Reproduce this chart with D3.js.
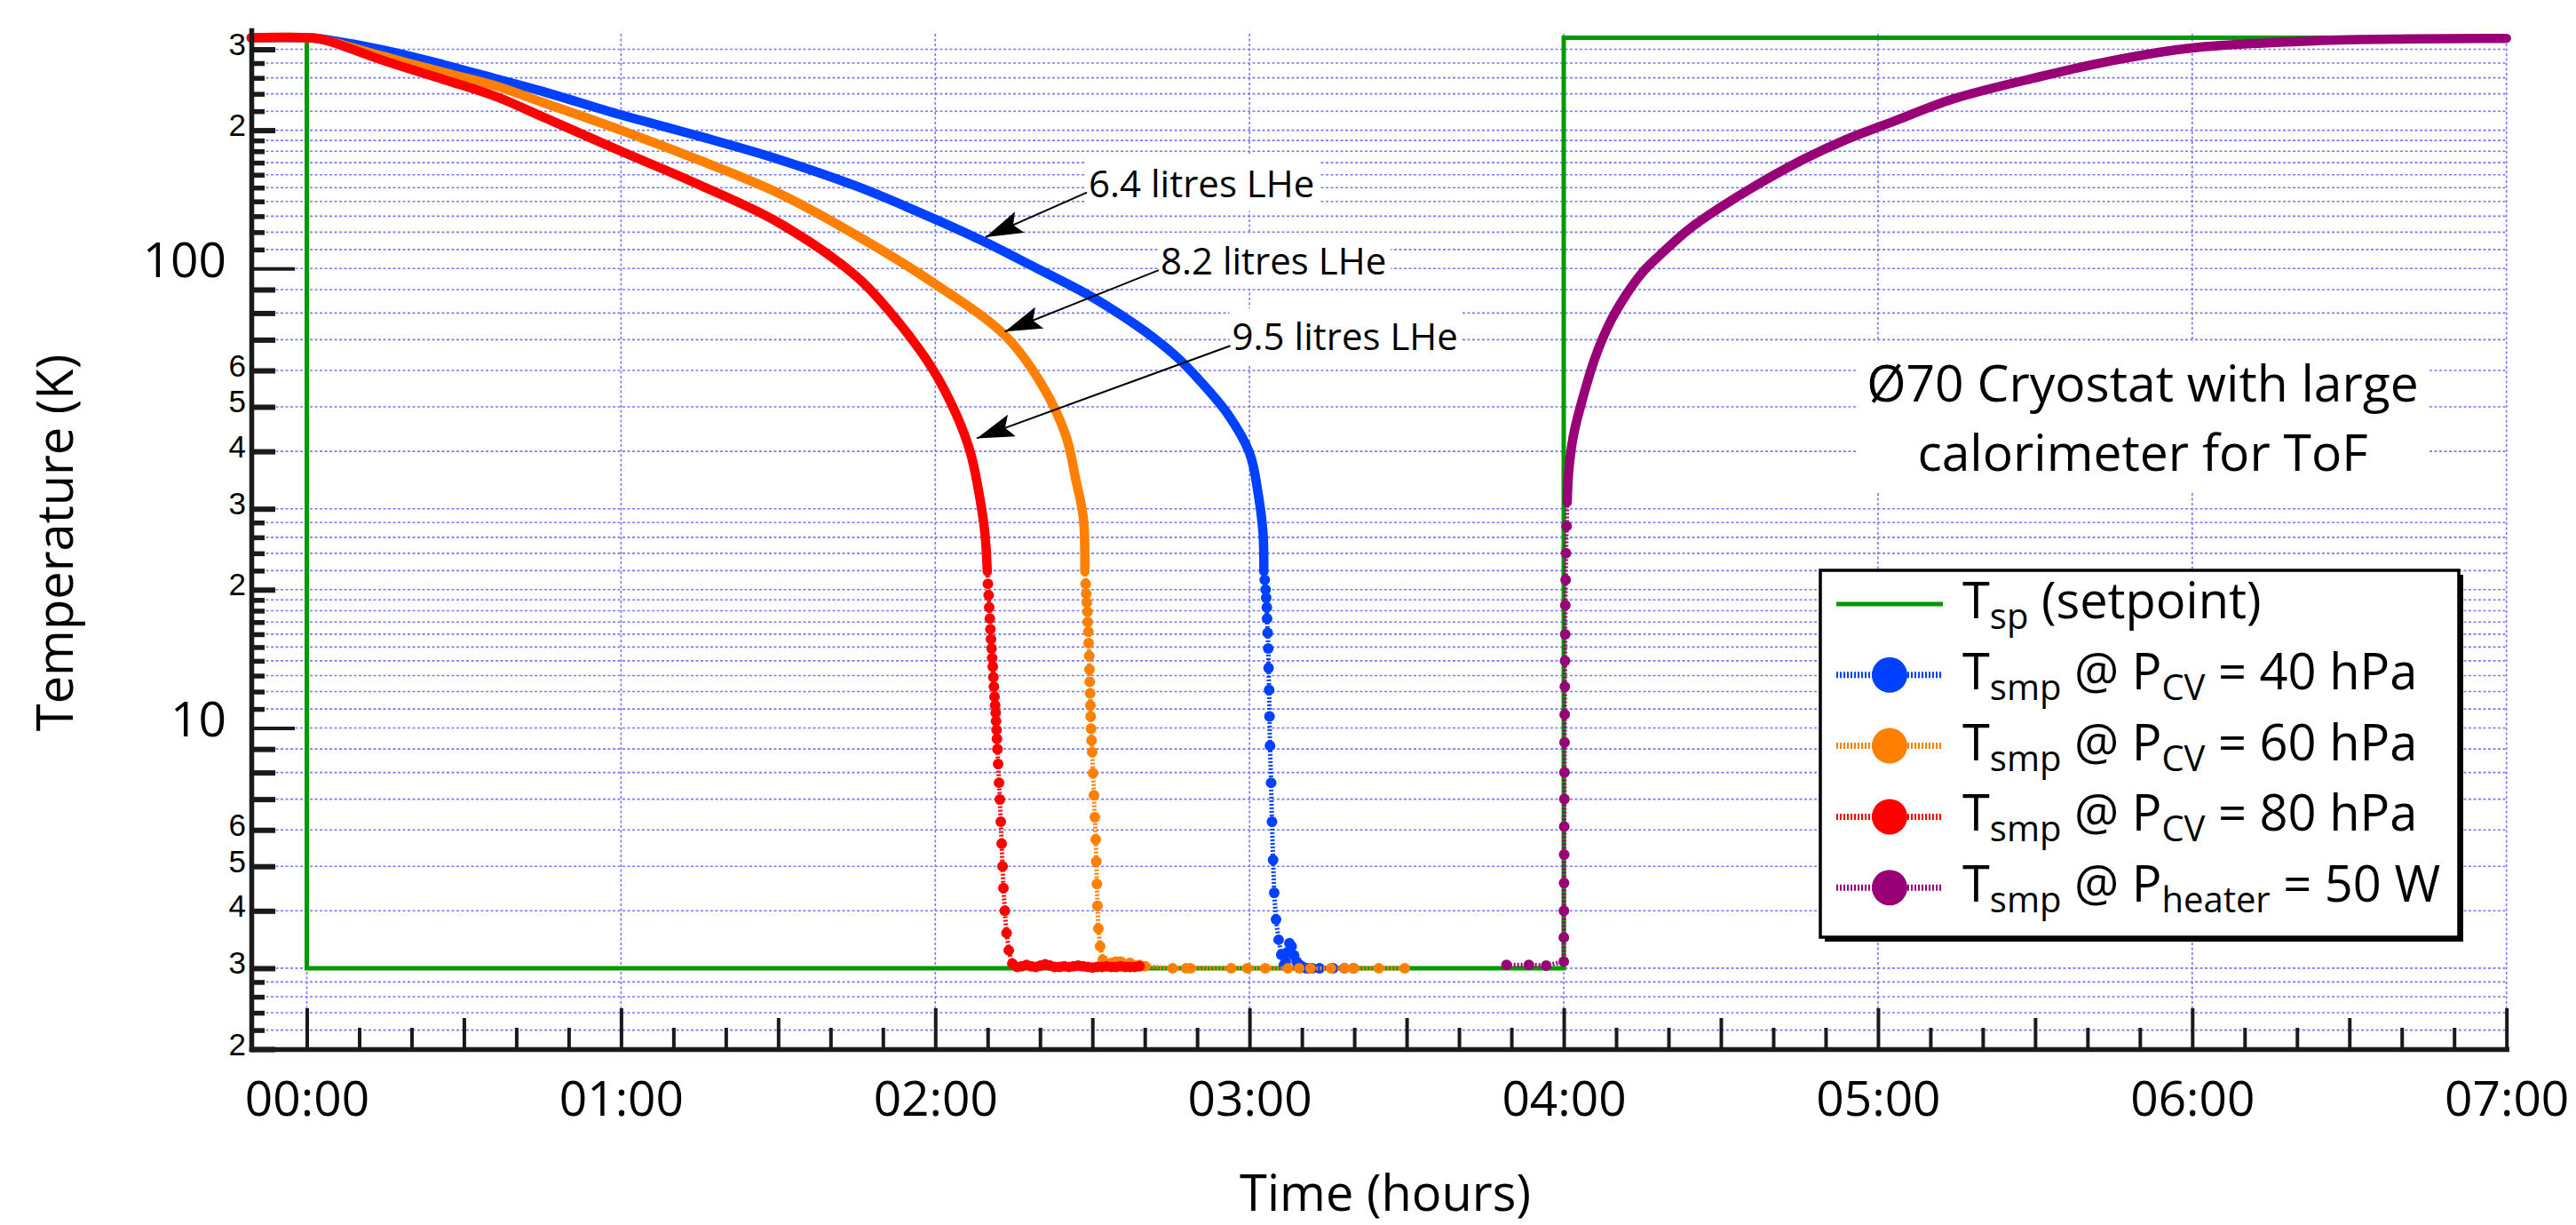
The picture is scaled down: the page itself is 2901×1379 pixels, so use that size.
<!DOCTYPE html>
<html><head><meta charset="utf-8">
<script src="https://cdn.jsdelivr.net/npm/d3@7"></script>
<style>
html,body{margin:0;padding:0;background:#fff;}
svg{display:block;font-family:"Open Sans","Noto Sans",sans-serif;}
text{white-space:pre;}
</style></head><body>
<svg id="chart" width="2901" height="1379"></svg>
<script>
// ---------------- DATA ----------------
const xHours = [0,1,2,3,4,5,6,7];
const xTickLabels = ["00:00","01:00","02:00","03:00","04:00","05:00","06:00","07:00"];
const yTicksMajor = [10,100];
const yTicksMedium = [2,3,4,5,6,7,8,9,20,30,40,50,60,70,80,90,200,300];
const yTicksMinor = [2.2,2.4,2.6,2.8,11,12,13,14,15,16,17,18,19,22,24,26,28,110,120,130,140,150,160,170,180,190,220,240,260,280];
const yLabelValues = [2,3,4,5,6,10,20,30,40,50,60,100,200,300];
const yLabelTexts  = ["2","3","4","5","6","10","2","3","4","5","6","100","2","3"];

// setpoint (hours, K)
const setpointTime = [-0.177,0,0,4,4,7];
const setpointTemp = [318,318,3,3,318,318];

// T_smp @ P_CV = 40 hPa  (hours, K)
const blueLine = [[-0.177,318],[0.02,317.5],[0.06,315],[0.248,298.4],[0.437,277.5],[0.6,259],[0.75,243],[1.0,216],[1.25,194],[1.5,173],[1.75,151],[2.0,128],[2.16,114],[2.3,102],[2.495,87],[2.6,78.5],[2.697,70.5],[2.773,63.8],[2.838,57.4],[2.932,48.1],[3.0,39.7],[3.028,32.2],[3.043,26.5],[3.0456,21.9]];
const blueDots = [[3.0484,21.0],[3.0512,20.0],[3.0531,19.2],[3.0551,18.3],[3.0559,17.3],[3.0579,16.1],[3.0596,14.9],[3.0607,13.5],[3.0624,12.1],[3.0636,10.6],[3.0653,9.15],[3.0687,7.6],[3.0715,6.25],[3.075,5.16],[3.0786,4.38],[3.0843,3.83],[3.0927,3.46],[3.101,3.21],[3.1096,3.05],[3.115,3.1],[3.12,3.25],[3.127,3.4],[3.134,3.35],[3.142,3.2],[3.15,3.1],[3.16,3.05],[3.17,3.02],[3.18,3.0],[3.19,3.0],[3.2,3.0],[3.223,3.0],[3.266,3.0],[3.302,3.0],[3.331,3.0]];

// T_smp @ P_CV = 60 hPa
const orangeLine = [[-0.177,318],[0.02,317.5],[0.06,314],[0.248,289],[0.437,267],[0.6,250],[0.75,230],[1.0,200],[1.25,172],[1.5,146],[1.75,118],[2.0,92.5],[2.222,71.5],[2.339,55.9],[2.415,43.4],[2.448,34.5],[2.471,28.7],[2.4758,21.9]];
const orangeDots = [[2.4787,20.6],[2.4804,19.6],[2.4824,18.75],[2.4843,17.9],[2.4852,17.0],[2.4872,16.2],[2.488,15.3],[2.49,14.35],[2.4909,13.4],[2.4917,12.6],[2.4929,11.9],[2.4937,11.2],[2.4945,10.6],[2.4957,9.97],[2.4974,9.4],[2.4994,8.86],[2.5021,7.98],[2.5049,7.14],[2.5077,6.39],[2.5106,5.72],[2.5125,5.12],[2.5142,4.58],[2.5162,4.1],[2.519,3.66],[2.5247,3.35],[2.5332,3.13],[2.5473,3.05],[2.56,3.08],[2.575,3.1],[2.59,3.1],[2.605,3.06],[2.62,3.08],[2.635,3.04],[2.65,3.05],[2.668,3.03],[2.755,3.0],[2.798,3.0],[2.812,3.0],[2.942,3.0],[2.993,3.0],[3.05,3.0],[3.122,3.0],[3.158,3.0],[3.194,3.0],[3.259,3.0],[3.303,3.0],[3.331,3.0],[3.411,3.0],[3.494,3.0]];

// T_smp @ P_CV = 80 hPa
const redLine = [[-0.177,318],[0.02,317.5],[0.06,314],[0.248,283],[0.437,257.7],[0.6,237],[0.75,214],[1.0,180],[1.25,152],[1.5,126],[1.75,96],[1.869,78.5],[1.991,60.5],[2.067,48.1],[2.112,39.7],[2.14,32.2],[2.158,26.5],[2.1655,21.9]];
const redDots = [[2.1675,20.6],[2.1698,19.45],[2.1717,18.3],[2.1737,17.3],[2.1754,16.4],[2.1774,15.6],[2.1793,14.9],[2.181,14.2],[2.183,13.6],[2.1849,12.9],[2.1866,12.3],[2.1886,11.7],[2.1906,11.2],[2.1923,10.8],[2.1934,10.35],[2.1951,9.9],[2.1962,9.47],[2.1979,9.0],[2.2,8.35],[2.2028,7.6],[2.2056,6.99],[2.2085,6.25],[2.2113,5.6],[2.2141,5.0],[2.2169,4.48],[2.2212,4.0],[2.2268,3.58],[2.2339,3.28],[2.2452,3.07],[2.26,3.02],[2.275,3.03],[2.29,3.05],[2.305,3.03],[2.32,3.02],[2.335,3.04],[2.35,3.06],[2.365,3.04],[2.38,3.02],[2.395,3.02],[2.41,3.03],[2.425,3.02],[2.44,3.03],[2.455,3.04],[2.47,3.03],[2.485,3.02],[2.5,3.01],[2.515,3.02],[2.53,3.02],[2.545,3.03],[2.56,3.02],[2.575,3.02],[2.59,3.03],[2.605,3.02],[2.62,3.02],[2.635,3.02],[2.65,3.03]];

// T_smp @ P_heater = 50 W
const purpleDots = [[3.818,3.05],[3.889,3.05],[3.944,3.04],[4.0,3.1],[4.0003,3.5],[4.0006,4.0],[4.001,4.6],[4.0013,5.3],[4.0016,6.1],[4.002,7.0],[4.0023,8.0],[4.0026,9.3],[4.003,10.7],[4.0035,12.3],[4.004,14],[4.0045,16],[4.005,18.5],[4.006,21],[4.007,24],[4.009,27.5]];
const purpleLine = [[4.011,31],[4.016,36.3],[4.03,43],[4.053,50],[4.1,64],[4.15,77],[4.2,88],[4.25,98],[4.3,106],[4.4,122],[4.5,136],[4.6,150],[4.75,171],[4.9,191],[5.05,209],[5.24,234],[5.52,262],[5.74,283],[6.0,302],[6.39,313],[6.7,316],[7.0,317]];

const seriesNames = ["blue","orange","red","purple"];
const seriesColors = ["#0040ff","#ff8000","#ff0000","#990077"];
const setpointColor = "#009900";

// annotations: tip and start of arrow, in (hours, K)
const annotLabels = ["6.4 litres LHe","8.2 litres LHe","9.5 litres LHe"];
const annotTip   = [[2.160,117],[2.2216,72.9],[2.132,42.7]];
const annotStart = [[2.4826,146.4],[2.7112,99.2],[2.939,67.9]];

const legendLabels = [
  [["T",0],["sp",1],[" (setpoint)",0]],
  [["T",0],["smp",1],[" @ P",0],["CV",1],[" = 40 hPa",0]],
  [["T",0],["smp",1],[" @ P",0],["CV",1],[" = 60 hPa",0]],
  [["T",0],["smp",1],[" @ P",0],["CV",1],[" = 80 hPa",0]],
  [["T",0],["smp",1],[" @ P",0],["heater",1],[" = 50 W",0]]
];
const titleLines = ["\u00D870 Cryostat with large","calorimeter for ToF"];

// ---------------- CHART ----------------
const svg = d3.select("#chart");
svg.append("rect").attr("width",2901).attr("height",1379).attr("fill","#fff");

const x = d3.scaleLinear().domain([-0.1766,7]).range([283,2822.7]);
const y = d3.scaleLog().domain([2,330]).range([1181,34.1]);
const X0 = x.range()[0], X1 = x.range()[1], Y0 = y.range()[0], Y1 = y.range()[1];

// grid
const grid = svg.append("g").attr("stroke","#7878ff").attr("stroke-width",1.6).attr("stroke-dasharray","3,2.5").attr("fill","none");
grid.selectAll("line.h").data([...yTicksMinor,...yTicksMedium.filter(v=>v>2),...yTicksMajor]).join("line").attr("class","h")
  .attr("x1",X0).attr("x2",X1).attr("y1",d=>y(d)).attr("y2",d=>y(d));
grid.selectAll("line.v").data(xHours).join("line").attr("class","v")
  .attr("x1",d=>x(d)).attr("x2",d=>x(d)).attr("y1",Y1+4).attr("y2",Y0);

// title box
const titleG = svg.append("g");
const titleText = titleG.append("text").attr("text-anchor","middle").attr("font-size",57).attr("fill","#000");
titleLines.forEach((t,i)=>titleText.append("tspan").attr("x",2413).attr("y",451.7+i*78.3).text(t));
const tb = titleText.node().getBBox();
titleG.insert("rect","text").attr("x",tb.x-10).attr("y",tb.y-6).attr("width",tb.width+20).attr("height",tb.height+14).attr("fill","#fff");

// setpoint
const lineGen = d3.line().x(d=>x(d[0])).y(d=>y(d[1]));
svg.append("path").datum(setpointTime.map((t,i)=>[t,setpointTemp[i]]))
  .attr("d",lineGen).attr("fill","none").attr("stroke",setpointColor).attr("stroke-width",5);

// series
const smooth = d3.line().x(d=>x(d[0])).y(d=>y(d[1])).curve(d3.curveCatmullRom.alpha(0.5));
const seriesLines = [blueLine,orangeLine,redLine,purpleLine];
const seriesDots = [blueDots,orangeDots,redDots,purpleDots];
seriesNames.forEach((n,i)=>{
  const g = svg.append("g").attr("class","series-"+n);
  const col = seriesColors[i];
  const all = seriesLines[i].concat(seriesDots[i]).sort((a,b)=>a[0]-b[0]);
  g.append("path").datum(all).attr("d",lineGen).attr("fill","none").attr("stroke",col)
    .attr("stroke-width",5).attr("stroke-dasharray","2,2");
  g.append("path").datum(seriesLines[i]).attr("d",smooth).attr("fill","none").attr("stroke",col)
    .attr("stroke-width",10.5).attr("stroke-linecap","round").attr("stroke-linejoin","round");
  g.selectAll("circle").data(seriesDots[i]).join("circle")
    .attr("cx",d=>x(d[0])).attr("cy",d=>y(d[1])).attr("r",6).attr("fill",col);
});

// axes
function clean(g){ g.attr("font-family",null).attr("font-size",null); }
function dropEmpty(g){ g.selectAll(".tick text").filter(function(){return !this.textContent;}).remove(); }
const axisColor = "#1a1a1a";
const xg = svg.append("g").attr("transform",`translate(0,${Y0})`);
const tenMin = d3.range(1,42).map(k=>k/6).filter(v=>Math.abs(v*2-Math.round(v*2))>1e-6);
const halfH = d3.range(0,7).map(k=>k+0.5);
xg.append("g").call(d3.axisBottom(x).tickValues(tenMin).tickSizeInner(-24).tickSizeOuter(0).tickFormat(""))
  .call(clean).call(dropEmpty).call(g=>g.select(".domain").remove());
xg.append("g").call(d3.axisBottom(x).tickValues(halfH).tickSizeInner(-35).tickSizeOuter(0).tickFormat(""))
  .call(clean).call(dropEmpty).call(g=>g.select(".domain").remove());
xg.append("g").call(d3.axisBottom(x).tickValues(xHours).tickSizeInner(-46).tickSizeOuter(0).tickPadding(36)
    .tickFormat((d,i)=>xTickLabels[i]))
  .call(clean).call(g=>g.select(".domain").attr("stroke-width",5.5).attr("stroke-linecap","square"));
xg.selectAll(".tick line").attr("stroke",axisColor).attr("stroke-width",4);
xg.selectAll(".domain").attr("stroke",axisColor);
xg.selectAll(".tick text").attr("font-size",55).attr("fill","#000");

const yg = svg.append("g").attr("transform",`translate(${X0},0)`);
const labelOf = v => { const k = yLabelValues.indexOf(v); return k<0 ? "" : yLabelTexts[k]; };
yg.append("g").call(d3.axisLeft(y).tickValues(yTicksMinor).tickSizeInner(-15).tickSizeOuter(0).tickFormat(""))
  .call(clean).call(dropEmpty).call(g=>g.select(".domain").remove())
  .call(g=>g.selectAll(".tick line").attr("stroke-width",5.5));
yg.append("g").call(d3.axisLeft(y).tickValues(yTicksMedium).tickSizeInner(-27).tickSizeOuter(0).tickPadding(6).tickFormat(labelOf))
  .call(clean).call(dropEmpty).call(g=>g.select(".domain").remove())
  .call(g=>g.selectAll(".tick line").attr("stroke-width",6))
  .call(g=>g.selectAll(".tick text").attr("font-family","'Liberation Sans',Arial,sans-serif").attr("font-size",35).attr("dy","6px"));
yg.append("g").call(d3.axisLeft(y).tickValues(yTicksMajor).tickSizeInner(-49).tickSizeOuter(0).tickPadding(28).tickFormat(labelOf))
  .call(clean).call(g=>g.select(".domain").attr("stroke-width",5.5).attr("stroke-linecap","square"))
  .call(g=>g.selectAll(".tick line").attr("stroke-width",4))
  .call(g=>g.selectAll(".tick text").attr("font-size",55).attr("dy","9.5px"));
yg.selectAll(".tick line").attr("stroke",axisColor);
yg.selectAll(".domain").attr("stroke",axisColor);
yg.selectAll(".tick text").attr("fill","#000");

// axis titles
svg.append("text").attr("transform","translate(82,611) rotate(-90)").attr("text-anchor","middle")
  .attr("font-size",56).attr("fill","#000").text("Temperature (K)");
svg.append("text").attr("x",1560).attr("y",1363).attr("text-anchor","middle")
  .attr("font-size",56).attr("fill","#000").text("Time (hours)");

// annotations
const defs = svg.append("defs");
defs.append("marker").attr("id","arrow").attr("markerUnits","userSpaceOnUse")
  .attr("viewBox","0 0 42 26").attr("refX",42).attr("refY",13).attr("markerWidth",42).attr("markerHeight",26)
  .attr("orient","auto").append("path").attr("d","M0,0 L42,13 L0,26 L8,13 Z").attr("fill","#000");
annotLabels.forEach((lab,i)=>{
  const g = svg.append("g");
  const sx = x(annotStart[i][0]), sy = y(annotStart[i][1]);
  const t = g.append("text").attr("x",sx+2).attr("y",sy+5).attr("font-size",42).attr("fill","#000").text(lab);
  const b = t.node().getBBox();
  g.insert("rect","text").attr("x",b.x-3).attr("y",b.y-2).attr("width",b.width+8).attr("height",b.height+6).attr("fill","#fff");
  g.append("line").attr("x1",sx).attr("y1",sy).attr("x2",x(annotTip[i][0])).attr("y2",y(annotTip[i][1]))
    .attr("stroke","#000").attr("stroke-width",2).attr("marker-end","url(#arrow)");
});

// legend
const lg = svg.append("g");
lg.append("rect").attr("x",2055).attr("y",647).attr("width",719).attr("height",413).attr("fill","#000");
lg.append("rect").attr("x",2050).attr("y",642).attr("width",719).attr("height",413).attr("fill","#fff").attr("stroke","#000").attr("stroke-width",3.5);
legendLabels.forEach((segs,i)=>{
  const base = 696 + i*79.8, cy = base-16;
  if(i===0){
    lg.append("line").attr("x1",2068).attr("x2",2188).attr("y1",cy).attr("y2",cy).attr("stroke",setpointColor).attr("stroke-width",5);
  } else {
    const col = seriesColors[i-1];
    lg.append("line").attr("x1",2068).attr("x2",2188).attr("y1",cy).attr("y2",cy).attr("stroke",col).attr("stroke-width",7).attr("stroke-dasharray","2,2");
    lg.append("circle").attr("cx",2128).attr("cy",cy).attr("r",20).attr("fill",col);
  }
  const t = lg.append("text").attr("x",2210).attr("y",base).attr("font-size",56).attr("fill","#000");
  let off = 0;
  segs.forEach(([s,sub])=>{
    const target = sub ? 12 : 0;
    t.append("tspan").attr("dy",target-off).attr("font-size",sub?40:56).text(s);
    off = target;
  });
});
</script>
</body></html>
